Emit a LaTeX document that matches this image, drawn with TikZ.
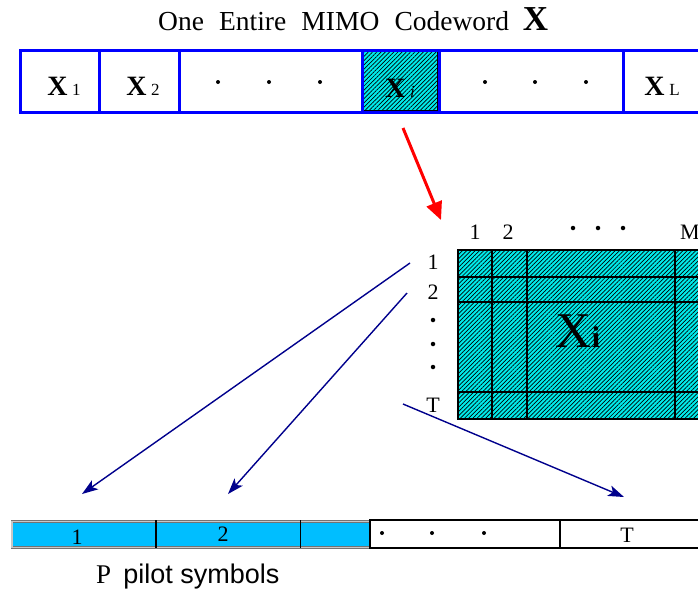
\documentclass[tikz,border=0pt]{standalone}
\usepackage{fontspec}
\setmainfont{Liberation Serif}
\newfontfamily\arialf{Liberation Sans}
\usetikzlibrary{patterns.meta,arrows.meta}
\definecolor{hatchcyan}{RGB}{0,235,235}
\definecolor{pilotblue}{RGB}{0,190,255}
\definecolor{arrnavy}{RGB}{0,0,140}
\definecolor{codeblue}{RGB}{0,0,255}
\begin{document}
\begin{tikzpicture}[x=1pt,y=-1pt,
  cellblue/.style={draw=codeblue, line width=3pt, inner sep=0pt, outer sep=0pt, anchor=north west, minimum height=62pt},
  hatch/.style={fill=hatchcyan, postaction={pattern={Lines[angle=45,distance=3pt,line width=0.7pt]}, pattern color=black}},
  barlab/.style={inner sep=0pt, font=\fontsize{28}{28}\selectfont},
  mlab/.style={inner sep=0pt, font=\fontsize{22}{22}\selectfont},
  blab/.style={inner sep=0pt, font=\fontsize{22}{22}\selectfont},
  dotmark/.style={fill=black, circle, inner sep=0pt, minimum size=4.5pt},
  redarrow/.style={draw=red, line width=3pt, -{Triangle[length=18pt,width=16pt]}},
  navyarrow/.style={draw=arrnavy, line width=1.4pt, -{Stealth[length=16pt,width=11pt,inset=4pt]}}
]
\useasboundingbox (0,0) rectangle (698,590);
\clip (0,0) rectangle (698,590);

% title
\node[inner sep=0pt, anchor=base west] (title) at (158,30)
  {\fontsize{27.5}{27.5}\selectfont One\hskip0.55em Entire\hskip0.55em MIMO\hskip0.55em Codeword\hskip0.5em{\fontsize{35}{35}\selectfont\bfseries X}};

% top codeword bar
\fill[hatch] (362,50) rectangle (439,112);
\draw[black, line width=0.8pt] (363.8,51.8) rectangle (437.2,110.2);
\node[cellblue, minimum width=79pt] (c1) at (20,50) {};
\node[cellblue, minimum width=80pt] (c2) at (99,50) {};
\node[cellblue, minimum width=183pt] (c3) at (179,50) {};
\node[cellblue, minimum width=77pt] (ci) at (362,50) {};
\node[cellblue, minimum width=184pt] (c5) at (439,50) {};
\node[cellblue, minimum width=120pt] (cl) at (623,50) {};

\node[barlab, anchor=base] (lx1) at (64,95) {\bfseries X\,{\mdseries\fontsize{17}{17}\selectfont 1}};
\node[barlab, anchor=base] (lx2) at (143,95) {\bfseries X\,{\mdseries\fontsize{17}{17}\selectfont 2}};
\node[barlab, anchor=base] (lxi) at (400,97) {\bfseries X\,{\mdseries\itshape\fontsize{17}{17}\selectfont i}};
\node[barlab, anchor=base] (lxl) at (662,95) {\bfseries X\,{\mdseries\fontsize{17}{17}\selectfont L}};
\node[dotmark, minimum size=4pt] (d1) at (218,82) {};
\node[dotmark, minimum size=4pt] (d2) at (269,82) {};
\node[dotmark, minimum size=4pt] (d3) at (320,82) {};
\node[dotmark, minimum size=4pt] (d4) at (485,82) {};
\node[dotmark, minimum size=4pt] (d5) at (535,82) {};
\node[dotmark, minimum size=4pt] (d6) at (586,82) {};

% red arrow
\coordinate (redS) at (403,128);
\coordinate (redE) at (441,220);
\draw[redarrow] (redS) -- (redE);

% matrix
\node[draw=black, line width=1.6pt, hatch, inner sep=0pt, outer sep=0pt, anchor=north west,
      minimum width=280pt, minimum height=169pt] (mat) at (458,250) {};
\begin{scope}[line width=1.5pt]
  \draw (458,277) -- (740,277);
  \draw (458,302) -- (740,302);
  \draw (458,392) -- (740,392);
  \draw (492,250) -- (492,419);
  \draw (527,250) -- (527,419);
  \draw (675,250) -- (675,419);
\end{scope}
\node[inner sep=0pt, anchor=base] (xbig) at (578,347)
  {\fontsize{50}{50}\selectfont X{\fontsize{30}{30}\selectfont\bfseries i}};

\node[mlab] (col1) at (475,232) {1};
\node[mlab] (col2) at (508,232) {2};
\node[dotmark] (cd1) at (573,228) {};
\node[dotmark] (cd2) at (598,228) {};
\node[dotmark] (cd3) at (623,228) {};
\node[mlab, anchor=west] (colm) at (680,232) {M};

\node[mlab] (row1) at (433,262) {1};
\node[mlab] (row2) at (433,292) {2};
\node[dotmark] (rd1) at (433,320) {};
\node[dotmark] (rd2) at (433,344) {};
\node[dotmark] (rd3) at (433,367) {};
\node[mlab] (rowt) at (433,405) {T};

% bottom bar
\node[draw=black!55, double=black!22, double distance=1.3pt, line width=0.8pt, fill=pilotblue,
      inner sep=0pt, outer sep=0pt, anchor=north west, minimum width=358pt, minimum height=26pt] (pb) at (12,521.5) {};
\draw[line width=1.2pt] (156,520) -- (156,548);
\draw[line width=1.2pt] (300.5,520) -- (300.5,548);
\node[draw=black, line width=1.2pt, inner sep=0pt, outer sep=0pt, anchor=north west,
      minimum width=190pt, minimum height=28pt] (bw) at (370,520) {};
\node[draw=black, line width=1.2pt, inner sep=0pt, outer sep=0pt, anchor=north west,
      minimum width=180pt, minimum height=28pt] (bt) at (560,520) {};

\node[blab] (b1) at (77,537) {1};
\node[blab] (b2) at (223,534) {2};
\node[dotmark, minimum size=4pt] (bd1) at (382,533) {};
\node[dotmark, minimum size=4pt] (bd2) at (432,533) {};
\node[dotmark, minimum size=4pt] (bd3) at (484,533) {};
\node[blab] (bT) at (627,535) {T};

\node[inner sep=0pt, anchor=base west] (pilot) at (96,583)
  {\fontsize{27}{27}\selectfont P\hskip0.45em{\arialf\fontsize{27}{27}\selectfont pilot symbols}};

% navy arrows
\coordinate (a1s) at (410,263);
\coordinate (a1e) at (82,494);
\coordinate (a2s) at (407,293);
\coordinate (a2e) at (228,494);
\coordinate (a3s) at (403,404);
\coordinate (a3e) at (624,497);
\draw[navyarrow] (a1s) -- (a1e);
\draw[navyarrow] (a2s) -- (a2e);
\draw[navyarrow] (a3s) -- (a3e);
\end{tikzpicture}
\end{document}
